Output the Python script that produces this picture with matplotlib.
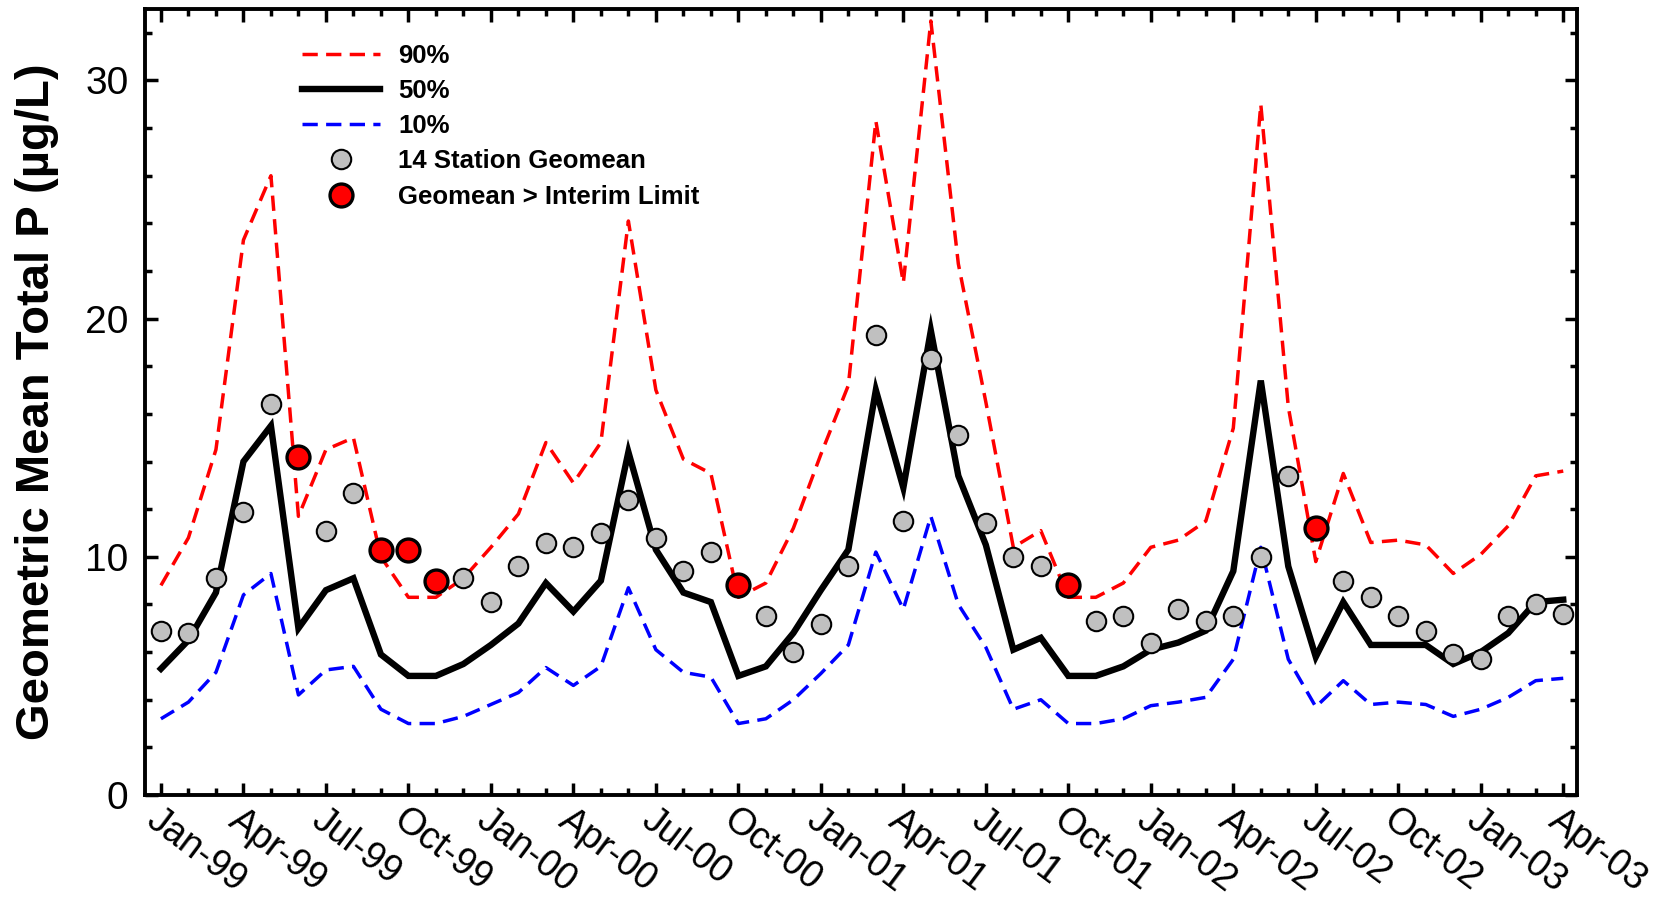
import matplotlib
matplotlib.use('Agg')
from matplotlib import pyplot as plt
from matplotlib.ticker import MultipleLocator
import matplotlib.transforms as mtransforms
import numpy as np

# monthly values, Jan-99 .. Apr-03
tick_labels = ['Jan-99', 'Apr-99', 'Jul-99', 'Oct-99', 'Jan-00', 'Apr-00',
               'Jul-00', 'Oct-00', 'Jan-01', 'Apr-01', 'Jul-01', 'Oct-01',
               'Jan-02', 'Apr-02', 'Jul-02', 'Oct-02', 'Jan-03', 'Apr-03']

p90 = [8.8, 10.8, 14.5, 23.3, 26.0, 11.7, 14.5, 15.0, 10.0, 8.3,
       8.3, 9.1, 10.4, 11.8, 14.8, 13.1, 14.8, 24.1, 17.0, 14.1,
       13.5, 8.3, 8.9, 11.2, 14.3, 17.2, 28.3, 21.5, 32.5, 22.3,
       16.5, 10.4, 11.1, 8.3, 8.3, 8.9, 10.4, 10.7, 11.5, 15.4,
       29.0, 16.3, 9.8, 13.5, 10.6, 10.7, 10.5, 9.3, 10.1, 11.3,
       13.4, 13.6]

p50 = [5.3, 6.5, 8.5, 14.0, 15.5, 7.0, 8.6, 9.1, 5.9, 5.0,
       5.0, 5.5, 6.3, 7.2, 8.9, 7.7, 9.0, 14.4, 10.3, 8.5,
       8.1, 5.0, 5.4, 6.8, 8.6, 10.3, 17.0, 12.9, 19.5, 13.4,
       10.5, 6.1, 6.6, 5.0, 5.0, 5.4, 6.1, 6.4, 6.9, 9.4,
       17.4, 9.6, 5.8, 8.1, 6.3, 6.3, 6.3, 5.5, 6.0, 6.8,
       8.1, 8.2]

p10 = [3.2, 3.9, 5.15, 8.4, 9.3, 4.2, 5.25, 5.4, 3.6, 3.0,
       3.0, 3.3, 3.8, 4.3, 5.35, 4.6, 5.4, 8.7, 6.1, 5.15,
       4.95, 3.0, 3.2, 4.0, 5.1, 6.3, 10.2, 7.8, 11.7, 8.0,
       6.2, 3.6, 4.0, 3.0, 3.0, 3.2, 3.75, 3.9, 4.1, 5.7,
       10.4, 5.7, 3.7, 4.8, 3.8, 3.9, 3.8, 3.3, 3.6, 4.1,
       4.8, 4.9]

geomean = [6.9, 6.8, 9.1, 11.9, 16.4, 14.2, 11.1, 12.7, 10.3, 10.3,
           9.0, 9.1, 8.1, 9.6, 10.6, 10.4, 11.0, 12.4, 10.8, 9.4,
           10.2, 8.8, 7.5, 6.0, 7.2, 9.6, 19.3, 11.5, 18.3, 15.1,
           11.4, 10.0, 9.6, 8.8, 7.3, 7.5, 6.4, 7.8, 7.3, 7.5,
           10.0, 13.4, 11.2, 9.0, 8.3, 7.5, 6.9, 5.9, 5.7, 7.5,
           8.0, 7.6]

# months where geomean is above the interim limit
exceed_idx = [5, 8, 9, 10, 21, 33, 42]

plt.rcParams['font.family'] = ['Liberation Sans', 'DejaVu Sans']

x = np.arange(len(p50))
geomean = np.array(geomean)
over = np.zeros(len(x), dtype=bool)
over[exceed_idx] = True

fig = plt.figure(figsize=(16.81, 9.02), dpi=100)
ax = fig.add_axes([145/1681, 1 - 795/902, (1577 - 145)/1681, (795 - 9)/902])

ax.plot(x, p90, color='#ff0000', lw=2.5, dashes=(4.4, 2.4), label='90%', zorder=2)
ax.plot(x, p50, color='black', lw=4.6, label='50%', zorder=3, solid_joinstyle='miter')
ax.plot(x, p10, color='#0000ff', lw=2.5, dashes=(4.4, 2.4), label='10%', zorder=2)
ax.plot(x[~over], geomean[~over], 'o', ms=14, mfc='#c0c0c0', mec='black', mew=1.5,
        ls='none', label='14 Station Geomean', zorder=4)
ax.plot(x[over], geomean[over], 'o', ms=16.5, mfc='#ff0000', mec='black', mew=2.4,
        ls='none', label='Geomean > Interim Limit', zorder=4)

ax.set_xlim(-0.58, 51.5)
ax.set_ylim(0, 33)

ax.set_xticks(np.arange(0, len(x), 3))
ax.set_xticklabels(tick_labels, rotation=-37, ha='left', va='top',
                   rotation_mode='anchor')
shift = mtransforms.ScaledTranslation(-9/100, 0, fig.dpi_scale_trans)
for lab in ax.get_xticklabels():
    lab.set_transform(lab.get_transform() + shift)
ax.xaxis.set_minor_locator(MultipleLocator(1))
ax.set_yticks([0, 10, 20, 30])
ax.yaxis.set_minor_locator(MultipleLocator(2))

ax.tick_params(which='both', direction='in', top=True, right=True, width=2.5)
ax.tick_params(axis='y', labelsize=28, pad=12)
ax.tick_params(axis='x', labelsize=27, pad=5)
ax.tick_params(which='major', length=9)
ax.tick_params(which='minor', length=5)
for s in ax.spines.values():
    s.set_linewidth(2.8)

ax.set_ylabel('Geometric Mean Total P (µg/L)', fontsize=34, fontweight='bold')
ax.yaxis.set_label_coords(-0.060, 0.5)

leg = ax.legend(loc='upper left', bbox_to_anchor=(0.101, 0.972), frameon=False,
                borderpad=0, handlelength=3.0, handletextpad=0.72, labelspacing=0.435,
                prop={'weight': 'bold', 'size': 18.5})

plt.savefig('out.png', dpi=100)
